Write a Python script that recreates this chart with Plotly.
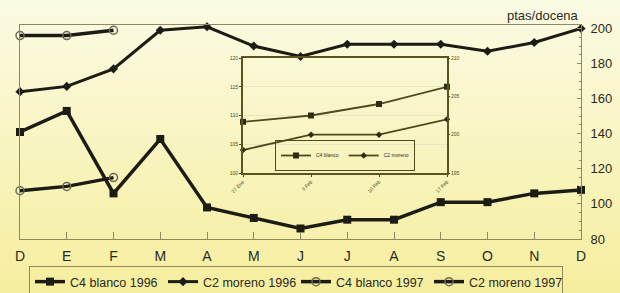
import plotly.graph_objects as go

months = ['D', 'E', 'F', 'M', 'A', 'M', 'J', 'J', 'A', 'S', 'O', 'N', 'D']
c4_blanco_1996 = [141, 153, 106, 137, 98, 92, 86, 91, 91, 101, 101, 106, 108]
c2_moreno_1996 = [164, 167, 177, 199, 201, 190, 184, 191, 191, 191, 187, 192, 200]
c4_blanco_1997 = [107.5, 110, 115]
c2_moreno_1997 = [196, 196, 199]

inset_dates = ['27 Ene', '3 Feb', '10 Feb', '17 Feb']
inset_c4_blanco = [108.9, 110, 112, 115]
inset_c2_moreno = [198, 200, 200, 202]

main_ticks = [80, 100, 120, 140, 160, 180, 200]

W, H = 620, 293
ML, MR, MT, MB = 20, 39, 25, 54
PW, PH = W - ML - MR, H - MT - MB

def px_x(x):
    return (x - ML) / PW

def px_y(y):
    return (H - MB - y) / PH

DARK = '#1c1c14'
OLIVE = '#4e4a1c'
AXC = '#8d8a62'

fig = go.Figure()

xi = list(range(len(months)))
fig.add_trace(go.Scatter(x=xi, y=c4_blanco_1996, name='C4 blanco 1996', mode='lines+markers',
                         line=dict(color=DARK, width=3.5),
                         marker=dict(symbol='square', size=8, color=DARK), cliponaxis=False))
fig.add_trace(go.Scatter(x=xi, y=c2_moreno_1996, name='C2 moreno 1996', mode='lines+markers',
                         line=dict(color=DARK, width=3),
                         marker=dict(symbol='diamond', size=7, color=DARK), cliponaxis=False))
fig.add_trace(go.Scatter(x=xi[:3], y=c4_blanco_1997, name='C4 blanco 1997', mode='lines+markers',
                         line=dict(color=DARK, width=3.5),
                         marker=dict(symbol='circle-open', size=8, color='#6a6850', line=dict(width=1.5)),
                         cliponaxis=False))
fig.add_trace(go.Scatter(x=xi[:3], y=c2_moreno_1997, name='C2 moreno 1997', mode='lines+markers',
                         line=dict(color=DARK, width=3.5),
                         marker=dict(symbol='circle-open', size=8, color='#6a6850', line=dict(width=1.5)),
                         cliponaxis=False))

ii = list(range(len(inset_dates)))
fig.add_trace(go.Scatter(x=ii, y=inset_c4_blanco, name='C4 blanco', mode='lines+markers',
                         xaxis='x2', yaxis='y2', legend='legend2',
                         line=dict(color=OLIVE, width=1.8),
                         marker=dict(symbol='square', size=6, color='#2e2c12'), cliponaxis=False))
fig.add_trace(go.Scatter(x=ii, y=inset_c2_moreno, name='C2 moreno', mode='lines+markers',
                         xaxis='x2', yaxis='y3', legend='legend2',
                         line=dict(color=OLIVE, width=1.8),
                         marker=dict(symbol='diamond', size=5, color='#2e2c12'), cliponaxis=False))

# background gradient
shapes = []
top = (251, 251, 228)
bot = (246, 238, 158)
n = 30
for k in range(n):
    t = (k + 0.5) / n
    c = tuple(int(round(top[j] + (bot[j] - top[j]) * t)) for j in range(3))
    y0 = H * k / n
    y1 = H * (k + 1) / n + 1
    shapes.append(dict(type='rect', xref='paper', yref='paper', layer='below',
                       x0=px_x(-2), x1=px_x(W + 2), y0=px_y(y1), y1=px_y(y0),
                       line=dict(width=0), fillcolor='rgb(%d,%d,%d)' % c))

fig.update_layout(
    width=W, height=H,
    margin=dict(l=ML, r=MR, t=MT, b=MB, autoexpand=False),
    paper_bgcolor='rgb(248,245,193)',
    plot_bgcolor='rgba(0,0,0,0)',
    font=dict(family='Liberation Sans, Arial, sans-serif', color='#2a2a22'),
    shapes=shapes,
    showlegend=True,
    xaxis=dict(range=[0, 12], tickvals=xi, ticktext=months, showgrid=False, zeroline=False,
               showline=True, mirror=True, linecolor=AXC, linewidth=1,
               ticks='inside', ticklen=7, tickcolor=AXC, tickfont=dict(size=14, color='#2a2a22'),
               ticklabelstandoff=4),
    yaxis=dict(range=[80, 202], tickvals=main_ticks, side='right', showgrid=False, zeroline=False,
               showline=True, mirror=True, linecolor=AXC, linewidth=1,
               ticks='inside', ticklen=4, tickcolor=AXC, tickfont=dict(size=13, color='#2a2a22'),
               ticklabelstandoff=6,
               minor=dict(ticks='inside', ticklen=2, tickcolor=AXC, dtick=5)),
    xaxis2=dict(domain=[px_x(243), px_x(447)], anchor='y2', range=[0, 3], tickvals=ii,
                ticktext=inset_dates, tickangle=-45, tickfont=dict(size=5, color=OLIVE),
                showgrid=False, zeroline=False, showline=True, mirror=True,
                linecolor='#5a5420', linewidth=2, ticks='outside', ticklen=2, tickcolor=OLIVE),
    yaxis2=dict(domain=[px_y(173), px_y(58)], anchor='x2', range=[100, 120], dtick=5,
                tickfont=dict(size=5, color=OLIVE), showgrid=True, gridcolor='#ebe7bd',
                zeroline=False, showline=True, mirror=True, linecolor='#5a5420', linewidth=2,
                ticks='outside', ticklen=2, tickcolor=OLIVE),
    yaxis3=dict(overlaying='y2', anchor='x2', side='right', range=[195, 210], dtick=5,
                tickfont=dict(size=5, color=OLIVE), showgrid=False, zeroline=False,
                ticks='outside', ticklen=2, tickcolor=OLIVE),
    legend=dict(orientation='h', x=px_x(29), y=px_y(266), xanchor='left', yanchor='top',
                bgcolor='rgba(0,0,0,0)', bordercolor=AXC, borderwidth=1,
                font=dict(size=12.5, color='#2a2a22'), itemwidth=30,
                entrywidth=88, entrywidthmode='pixels'),
    legend2=dict(orientation='h', x=px_x(345), y=px_y(171), xanchor='center', yanchor='bottom',
                 bgcolor='rgba(0,0,0,0)', bordercolor='#4e4a1c', borderwidth=1,
                 font=dict(size=5, color='#2a2a22'), itemwidth=30),
    annotations=[dict(text='ptas/docena', xref='paper', yref='paper', x=px_x(581), y=px_y(15),
                      xanchor='right', yanchor='middle', showarrow=False,
                      font=dict(size=13, color='#2a2a22'))],
)

fig.write_html('out.html', config={'displayModeBar': False},
               post_script="document.body.style.margin='0';document.body.style.overflow='hidden';")
